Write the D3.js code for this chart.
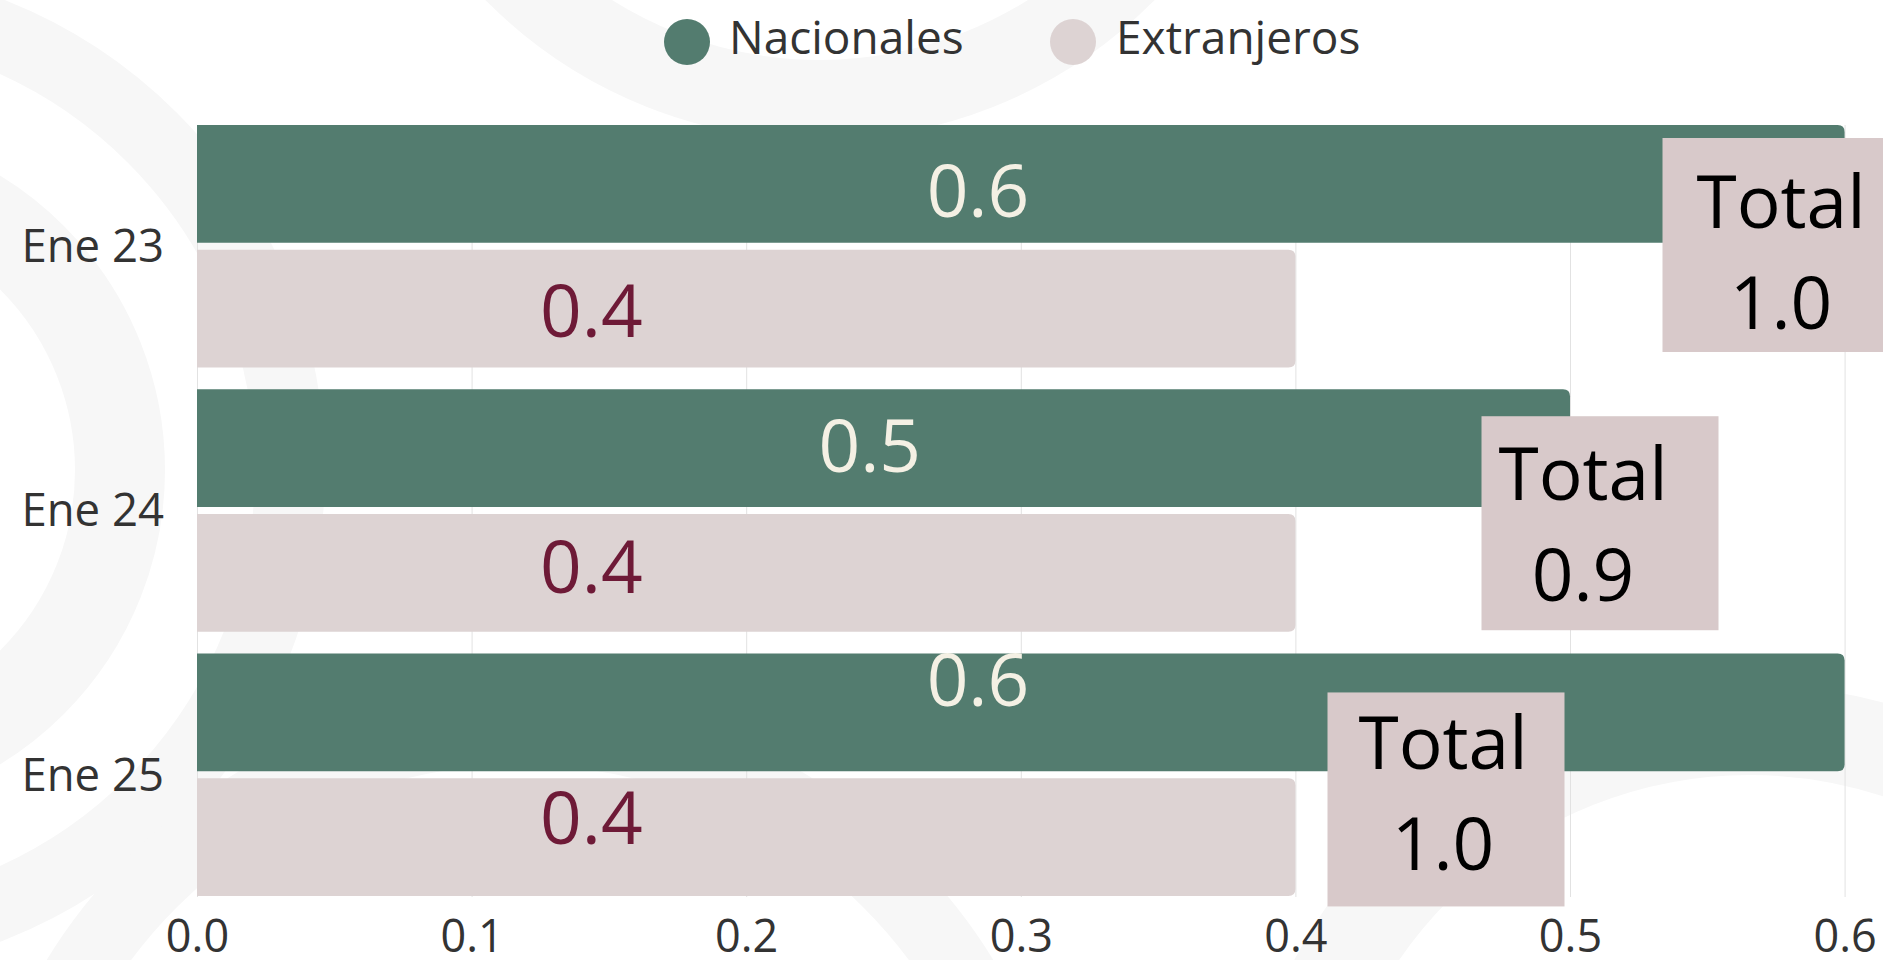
<!DOCTYPE html>
<html>
<head>
<meta charset="utf-8">
<script src="https://cdn.jsdelivr.net/npm/d3@7"></script>
<style>
  html, body { margin: 0; padding: 0; background: #ffffff; }
  svg { display: block; font-family: "Open Sans", "Noto Sans", sans-serif; }
</style>
</head>
<body>
<svg id="chart" width="1883" height="960"></svg>
<script>
// ---------- data ----------
const categories = ["Ene 23", "Ene 24", "Ene 25"];
const seriesNames = ["Nacionales", "Extranjeros"];
const nacionales = [0.6, 0.5, 0.6];
const extranjeros = [0.4, 0.4, 0.4];
const totals = [1.0, 0.9, 1.0];
const xTicks = [0, 0.1, 0.2, 0.3, 0.4, 0.5, 0.6];

// ---------- layout / style ----------
const W = 1883, H = 960;
const colors = { Nacionales: "#537c6f", Extranjeros: "#ddd3d3" };
const labelColors = { Nacionales: "#f4f0e4", Extranjeros: "#6e1a37" };
const totalBoxColor = "#d8c9ca";
// label placement tweaks (fraction along bar, baseline offset from bar centre)
const labelFrac = { Nacionales: [0.474, 0.49, 0.474], Extranjeros: [0.359, 0.359, 0.359] };
const labelBase = { Nacionales: [33, 24, -6], Extranjeros: [28, 20, 7] };
// total boxes: centre x in px, top offset from band start, text offsets
const totalBoxCx = [1781, 1600, 1446];
const totalBoxDy = [13, 27, 39];
const totalTextDx = [0, -17, -3];
const totalLine1 = [90, 84, 77];
const totalLine2 = [191, 185, 178];
const boxW = 237, boxH = 214;

const svg = d3.select("#chart");

// faint background watermark
const bg = svg.append("g");
bg.append("rect").attr("width", W).attr("height", H).attr("fill", "#ffffff");
const swirls = [
  { cx: -180, cy: 470, r: 300, w: 90 },
  { cx: -180, cy: 470, r: 470, w: 70 },
  { cx: 820, cy: -330, r: 430, w: 80 },
  { cx: 1750, cy: 1200, r: 470, w: 90 },
  { cx: 520, cy: 1250, r: 520, w: 70 }
];
bg.selectAll("circle").data(swirls).join("circle")
  .attr("cx", d => d.cx).attr("cy", d => d.cy).attr("r", d => d.r)
  .attr("fill", "none").attr("stroke", "#f7f7f7").attr("stroke-width", d => d.w);

// scales
const x = d3.scaleLinear().domain([0, 0.6]).range([197, 1844.6]);
const y = d3.scaleBand().domain(categories).range([125, 896]).paddingInner(0.082).paddingOuter(0);
const ySub = d3.scaleBand().domain(seriesNames).range([0, y.bandwidth()]).paddingInner(0.055);

// gridlines
svg.append("g").selectAll("line").data(xTicks).join("line")
  .attr("x1", d => x(d) + 0.5).attr("x2", d => x(d) + 0.5)
  .attr("y1", 125).attr("y2", 897)
  .attr("stroke", "#e2e2e2").attr("stroke-width", 1);

// x axis labels
const xAxis = d3.axisBottom(x).tickValues(xTicks).tickFormat(d3.format(".1f")).tickSize(0).tickPadding(0);
const gx = svg.append("g").attr("transform", "translate(0,920)").call(xAxis);
gx.select(".domain").remove();
gx.selectAll("text").attr("font-size", 45).attr("fill", "#333333")
  .attr("font-family", "'Open Sans', sans-serif").attr("dy", "0.71em");

// y axis labels
const yAxis = d3.axisLeft(y).tickSize(0).tickPadding(0);
const gy = svg.append("g").attr("transform", "translate(164,0)").call(yAxis);
gy.select(".domain").remove();
gy.selectAll("text").attr("font-size", 45.5).attr("fill", "#333333")
  .attr("font-family", "'Open Sans', sans-serif").attr("dy", "0.35em");

// bar data
const rows = categories.map((c, i) => ({
  cat: c, i,
  vals: [
    { s: "Nacionales", v: nacionales[i] },
    { s: "Extranjeros", v: extranjeros[i] }
  ]
}));

function barPath(x0, y0, w, h, r) {
  r = Math.min(r, w, h / 2);
  return `M${x0},${y0}H${x0 + w - r}Q${x0 + w},${y0} ${x0 + w},${y0 + r}V${y0 + h - r}Q${x0 + w},${y0 + h} ${x0 + w - r},${y0 + h}H${x0}Z`;
}

const groups = svg.append("g").selectAll("g").data(rows).join("g")
  .attr("transform", d => `translate(0,${y(d.cat)})`);

groups.selectAll("path").data(d => d.vals).join("path")
  .attr("d", d => barPath(x(0), ySub(d.s), x(d.v) - x(0), ySub.bandwidth(), 7))
  .attr("fill", d => colors[d.s]);

// data labels
groups.each(function (row) {
  d3.select(this).selectAll("text.val").data(row.vals).join("text")
    .attr("class", "val")
    .attr("x", d => x(0) + (x(d.v) - x(0)) * labelFrac[d.s][row.i])
    .attr("y", d => ySub(d.s) + ySub.bandwidth() / 2 + labelBase[d.s][row.i])
    .attr("text-anchor", "middle")
    .attr("font-size", 73)
    .attr("fill", d => labelColors[d.s])
    .text(d => d3.format(".1f")(d.v));
});

// total boxes
const tb = svg.append("g").selectAll("g").data(rows).join("g")
  .attr("transform", d => `translate(${totalBoxCx[d.i] - boxW / 2},${y(d.cat) + totalBoxDy[d.i]})`);
tb.append("rect").attr("width", boxW).attr("height", boxH).attr("fill", totalBoxColor);
tb.append("text").attr("x", d => boxW / 2 + totalTextDx[d.i]).attr("y", d => totalLine1[d.i])
  .attr("text-anchor", "middle")
  .attr("font-size", 73).attr("fill", "#000000").text("Total");
tb.append("text").attr("x", d => boxW / 2 + totalTextDx[d.i]).attr("y", d => totalLine2[d.i])
  .attr("text-anchor", "middle")
  .attr("font-size", 73).attr("fill", "#000000").text(d => d3.format(".1f")(totals[d.i]));

// legend
const legendPos = [{ cx: 687, tx: 729 }, { cx: 1073, tx: 1116 }];
const lg = svg.append("g").selectAll("g").data(seriesNames).join("g");
lg.append("circle").attr("cx", (d, i) => legendPos[i].cx).attr("cy", 42).attr("r", 23)
  .attr("fill", d => colors[d]);
lg.append("text").attr("x", (d, i) => legendPos[i].tx).attr("y", 54)
  .attr("font-size", 46).attr("fill", "#333333").text(d => d);
</script>
</body>
</html>
